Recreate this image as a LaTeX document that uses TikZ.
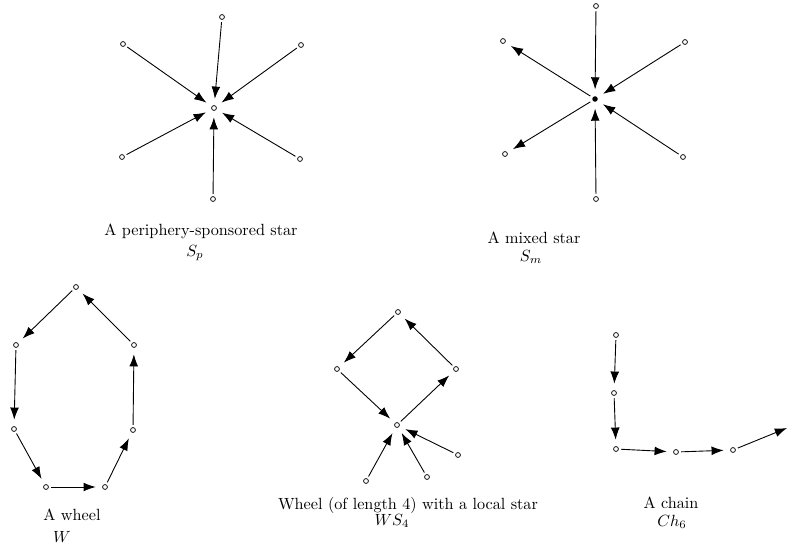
\documentclass[tikz,border=0pt]{standalone}
\usepackage{tikz}
\usetikzlibrary{arrows.meta}

\begin{document}
\begin{tikzpicture}[
  x=0.617pt, y=-0.617pt,
  vtx/.style={draw, circle, inner sep=0pt, minimum size=3pt, line width=0.45pt, fill=white},
  hub/.style={circle, fill=black, inner sep=0pt, minimum size=3.4pt},
  arc/.style={-{Latex[length=7.5pt,width=5.4pt]}, line width=0.55pt,
              shorten >=4pt, shorten <=1.5pt},
  caption/.style={inner sep=0pt, font=\normalsize}
]
\useasboundingbox (0,0) rectangle (788,549);

% periphery-sponsored star
\node[vtx] (sp)  at (214,108) {};
\node[vtx] (sp1) at (222,17)  {};
\node[vtx] (sp2) at (301,45)  {};
\node[vtx] (sp3) at (300,159) {};
\node[vtx] (sp4) at (213,199) {};
\node[vtx] (sp5) at (122,157) {};
\node[vtx] (sp6) at (123,44)  {};
\foreach \i in {1,...,6}
  \draw[arc] (sp\i) -- (sp);
\node[caption] (spcap)  at (201,231) {A periphery-sponsored star};
\node[caption] (spname) at (195,253) {$S_p$};

% mixed star
\node[hub] (sm)  at (595,99)  {};
\node[vtx] (sm1) at (596,6)   {};
\node[vtx] (sm2) at (685,42)  {};
\node[vtx] (sm3) at (683,157) {};
\node[vtx] (sm4) at (596,199) {};
\node[vtx] (sm5) at (505,154) {};
\node[vtx] (sm6) at (503,41)  {};
\foreach \i in {1,...,4}
  \draw[arc] (sm\i) -- (sm);
\draw[arc] (sm) -- (sm5);
\draw[arc] (sm) -- (sm6);
\node[caption] (smcap)  at (534,238) {A mixed star};
\node[caption] (smname) at (531,257) {$S_m$};

% wheel
\node[vtx] (w1) at (76,287)  {};
\node[vtx] (w2) at (16,345)  {};
\node[vtx] (w3) at (14,429)  {};
\node[vtx] (w4) at (46,487)  {};
\node[vtx] (w5) at (105,487) {};
\node[vtx] (w6) at (133,430) {};
\node[vtx] (w7) at (134,345) {};
\draw[arc] (w1) -- (w2);
\draw[arc] (w2) -- (w3);
\draw[arc] (w3) -- (w4);
\draw[arc] (w4) -- (w5);
\draw[arc] (w5) -- (w6);
\draw[arc] (w6) -- (w7);
\draw[arc] (w7) -- (w1);
\node[caption] (wcap)  at (72,515) {A wheel};
\node[caption] (wname) at (62,537) {$W$};

% wheel of length 4 with a local star
\node[vtx] (ws)  at (397,425) {};
\node[vtx] (ws1) at (398,312) {};
\node[vtx] (ws2) at (337,369) {};
\node[vtx] (ws3) at (456,369) {};
\node[vtx] (ws4) at (458,455) {};
\node[vtx] (ws5) at (427,477) {};
\node[vtx] (ws6) at (366,481) {};
\draw[arc] (ws1) -- (ws2);
\draw[arc] (ws2) -- (ws);
\draw[arc] (ws)  -- (ws3);
\draw[arc] (ws3) -- (ws1);
\foreach \i in {4,5,6}
  \draw[arc] (ws\i) -- (ws);
\node[caption] (wscap)  at (408,505) {Wheel (of length 4) with a local star};
\node[caption] (wsname) at (392,521) {$WS_4$};

% chain
\node[vtx] (ch1) at (616,335) {};
\node[vtx] (ch2) at (614,393) {};
\node[vtx] (ch3) at (616,449) {};
\node[vtx] (ch4) at (676,452) {};
\node[vtx] (ch5) at (733,450) {};
\coordinate (chend) at (787,428);
\draw[arc] (ch1) -- (ch2);
\draw[arc] (ch2) -- (ch3);
\draw[arc] (ch3) -- (ch4);
\draw[arc] (ch4) -- (ch5);
\draw[arc, shorten >=0pt] (ch5) -- (chend);
\node[caption] (chcap)  at (671,503) {A chain};
\node[caption] (chname) at (672,522) {$Ch_6$};
\end{tikzpicture}
\end{document}
